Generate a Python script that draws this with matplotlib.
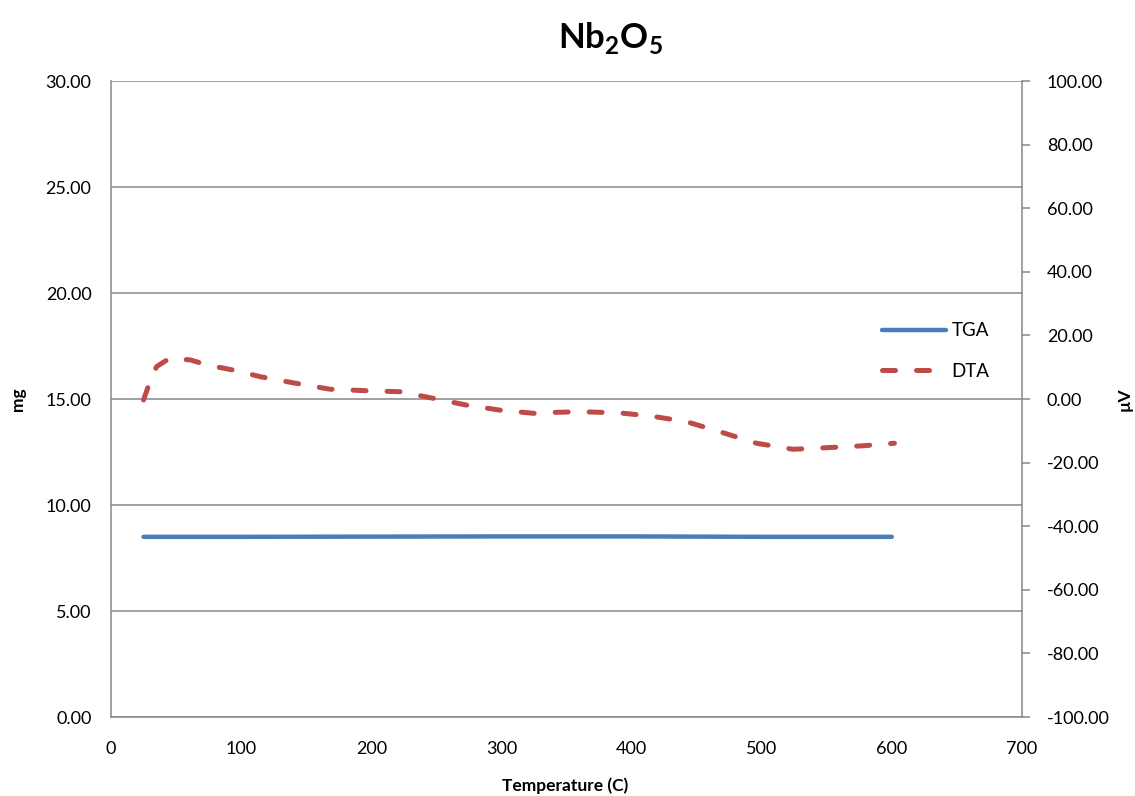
import matplotlib
matplotlib.use("Agg")
import matplotlib.pyplot as plt
from matplotlib.ticker import FormatStrFormatter, MultipleLocator

# data
temp_tga = [25, 100, 200, 300, 400, 450, 500, 600]
tga_mg = [8.50, 8.50, 8.51, 8.52, 8.52, 8.51, 8.50, 8.50]

temp_dta = [25, 29, 35, 45, 61, 74, 94, 115, 140, 168, 197, 222, 248, 273,
            299, 325, 340, 360, 389, 414, 442, 468, 496, 524, 550, 578, 602]
dta_uv = [-0.3, 4.4, 10.2, 12.8, 12.3, 10.7, 9.1, 7.0, 5.1, 3.1, 2.6, 2.3,
          0.2, -1.9, -3.5, -4.5, -4.2, -4.0, -4.3, -5.3, -7.1, -10.3,
          -13.9, -15.8, -15.3, -14.7, -13.9]

plt.rcParams["font.family"] = ["Lato", "DejaVu Sans"]

grid_col = "#868686"
fig = plt.figure(figsize=(11.35, 7.96), dpi=100)
ax = fig.add_axes([0.0978, 0.0992, 0.8026, 0.799])
ax2 = ax.twinx()

ax.set_xlim(0, 700)
ax.set_ylim(0, 30)
ax2.set_ylim(-100, 100)
ax.xaxis.set_major_locator(MultipleLocator(100))
ax.yaxis.set_major_locator(MultipleLocator(5))
ax2.yaxis.set_major_locator(MultipleLocator(20))
ax.yaxis.set_major_formatter(FormatStrFormatter("%.2f"))
ax2.yaxis.set_major_formatter(FormatStrFormatter("%.2f"))

ax.grid(axis="y", color=grid_col, lw=1.1)
ax.set_axisbelow(True)
for s in ["top", "right"]:
    ax.spines[s].set_visible(False)
ax2.spines["top"].set_visible(False)
for s in ["left", "bottom"]:
    ax.spines[s].set_color(grid_col)
    ax.spines[s].set_linewidth(1.1)
    ax2.spines[s].set_visible(False)
ax2.spines["right"].set_color(grid_col)
ax2.spines["right"].set_linewidth(1.1)

ax.tick_params(axis="both", length=0, labelsize=13, colors="black")
ax.tick_params(axis="y", pad=14)
ax.tick_params(axis="x", pad=17)
ax2.tick_params(axis="y", length=6, width=1.1, color=grid_col, labelsize=13,
                pad=12)

l1, = ax.plot(temp_tga, tga_mg, color="#4a7ebb", lw=3.2, label="TGA",
              solid_capstyle="round")
l2, = ax2.plot(temp_dta, dta_uv, color="#be4b48", lw=3.6, label="DTA",
               dash_capstyle="round")
l2.set_dashes([2.6, 4.2])

# axis titles placed where the reference has them
ax.set_xlabel("Temperature (C)", fontsize=12.5, fontweight="bold",
              va="center", ha="center")
ax.xaxis.set_label_coords(0.499, -0.1085)
ax.set_ylabel("mg", fontsize=12.5, fontweight="bold", va="center", ha="center")
ax.yaxis.set_label_coords(-0.102, 0.5)
ax2.set_ylabel("µV", fontsize=12.5, fontweight="bold", rotation=90,
               va="center", ha="center")
ax2.yaxis.set_label_coords(1.113, 0.5)

fig.text(0.538, 0.952, r"Nb$_\mathregular{2}$O$_\mathregular{5}$",
         ha="center", va="center", fontsize=25, fontweight="bold")

ax.legend(handles=[l1, l2], loc="upper left", bbox_to_anchor=(0.828, 0.647),
          frameon=False, fontsize=13.5, handlelength=3.4, handletextpad=0.3,
          labelspacing=1.24)

fig.savefig("out.png", dpi=100)
